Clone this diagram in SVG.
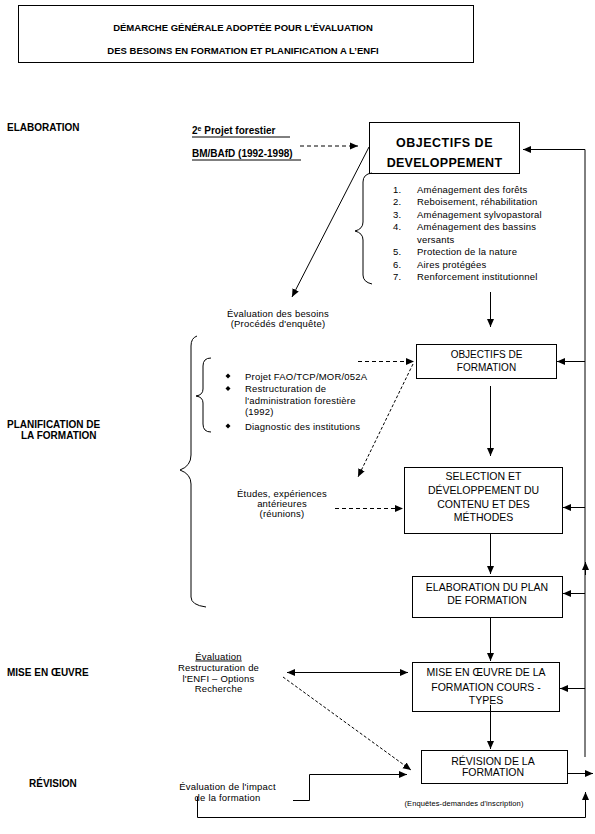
<svg xmlns="http://www.w3.org/2000/svg" width="595" height="834" viewBox="0 0 595 834">
<style>
text{font-family:"Liberation Sans",Arial,sans-serif;fill:#000}
.t{font-size:9.5px;font-weight:bold}
.lab{font-size:10px;font-weight:bold}
.b{font-size:10px}
.s{font-size:9.5px;letter-spacing:0.2px}
.m{text-anchor:middle}
.box{fill:#fff;stroke:#000;stroke-width:1}
.c{fill:none;stroke:#000;stroke-width:1}
.d{stroke-dasharray:4,3}
.f{stroke-dasharray:3,2}
</style>
<defs>
<marker id="a" markerUnits="userSpaceOnUse" markerWidth="8" markerHeight="8" refX="8" refY="4" orient="auto-start-reverse">
<path d="M0,0.5 L8,4 L0,7.5 z" fill="#000"/>
</marker>
</defs>
<rect width="595" height="834" fill="#fff"/>

<g id="title">
<rect class="box" x="18.5" y="5.5" width="455" height="57"/>
<text class="t m" x="243" y="31">DÉMARCHE GÉNÉRALE ADOPTÉE POUR L'ÉVALUATION</text>
<text class="t m" x="243" y="54">DES BESOINS EN FORMATION ET PLANIFICATION A L’ENFI</text>
</g>

<g id="labels">
<text class="lab" x="7" y="130.5">ELABORATION</text>
<text class="lab" x="7" y="427.5">PLANIFICATION DE</text>
<text class="lab" x="21" y="439">LA FORMATION</text>
<text class="lab" x="7" y="675.5">MISE EN ŒUVRE</text>
<text class="lab" x="29" y="786.5">RÉVISION</text>
</g>

<g id="projet">
<text class="lab" x="192" y="134">2<tspan font-size="7" dy="-3">e</tspan><tspan dy="3"> Projet forestier</tspan></text>
<line class="c" x1="192" y1="137" x2="290" y2="137"/>
<text class="lab" x="192" y="157">BM/BAfD (1992-1998)</text>
<line class="c" x1="192" y1="160" x2="301" y2="160"/>
</g>

<g id="obj-dev">
<rect class="box" x="369.5" y="122.5" width="150" height="51"/>
<text class="m" x="444.5" y="146.5" font-size="12.5" font-weight="bold" letter-spacing="0.5">OBJECTIFS DE</text>
<text class="m" x="444.5" y="167" font-size="12.5" font-weight="bold" letter-spacing="0.3">DEVELOPPEMENT</text>
</g>

<g id="obj-dev-list">
<path class="c" d="M372,173 Q363,174 363,182 V222 Q363,229 355,231 Q363,233 363,240 V275 Q363,282 372,284"/>
<g class="s">
<text x="393" y="192.5">1.</text><text x="417" y="192.5">Aménagement des forêts</text>
<text x="393" y="205">2.</text><text x="417" y="205">Reboisement,  réhabilitation</text>
<text x="393" y="217.5">3.</text><text x="417" y="217.5">Aménagement sylvopastoral</text>
<text x="393" y="230">4.</text><text x="417" y="230">Aménagement des bassins</text>
<text x="417" y="242.5">versants</text>
<text x="393" y="255">5.</text><text x="417" y="255">Protection de la nature</text>
<text x="393" y="267.5">6.</text><text x="417" y="267.5">Aires protégées</text>
<text x="393" y="280">7.</text><text x="417" y="280">Renforcement institutionnel</text>
</g>
</g>

<g id="eval-besoins">
<text class="s m" x="278" y="316.5">Évaluation des besoins</text>
<text class="s m" x="278" y="327">(Procédés d'enquête)</text>
</g>

<g id="brackets-planif">
<path class="c" d="M197,336 Q191,338 191,346 V455 Q191,466 180,470 Q191,474 191,484 V597 Q191,605 206,607"/>
<path class="c" d="M211,358 Q203,358 203,366 V389 Q203,395 196,396 Q203,397 203,403 V424 Q203,432 211,432"/>
</g>

<g id="sources">
<g fill="#000">
<path d="M228,373.5 l2.5,2.5 l-2.5,2.5 l-2.5,-2.5 z"/>
<path d="M228,386 l2.5,2.5 l-2.5,2.5 l-2.5,-2.5 z"/>
<path d="M228,423.5 l2.5,2.5 l-2.5,2.5 l-2.5,-2.5 z"/>
</g>
<g class="s">
<text x="245" y="379.5">Projet FAO/TCP/MOR/052A</text>
<text x="245" y="392">Restructuration de</text>
<text x="245" y="403.5">l'administration forestière</text>
<text x="245" y="415">(1992)</text>
<text x="245" y="429.5">Diagnostic des institutions</text>
</g>
</g>

<g id="obj-formation">
<rect class="box" x="416.5" y="344.5" width="140" height="34"/>
<text class="b m" x="486.5" y="357.5">OBJECTIFS DE</text>
<text class="b m" x="486.5" y="370.5">FORMATION</text>
</g>

<g id="etudes">
<text class="s m" x="282" y="496.5">Études, expériences</text>
<text class="s m" x="282" y="506.5">antérieures</text>
<text class="s m" x="282" y="517">(réunions)</text>
</g>

<g id="selection">
<rect class="box" x="404.5" y="467.5" width="158" height="66"/>
<text class="m" font-size="10.5" x="483.5" y="480">SELECTION ET</text>
<text class="m" font-size="10.5" x="483.5" y="494">DÉVELOPPEMENT DU</text>
<text class="m" font-size="10.5" x="483.5" y="507.5">CONTENU ET DES</text>
<text class="m" font-size="10.5" x="483.5" y="521">MÉTHODES</text>
</g>

<g id="plan">
<rect class="box" x="412.5" y="576.5" width="150" height="41"/>
<text class="m" font-size="10.5" x="487" y="591">ELABORATION DU PLAN</text>
<text class="m" font-size="10.5" x="487" y="604">DE FORMATION</text>
</g>

<g id="eval-enfi">
<text class="s m" x="218.5" y="659.5" text-decoration="underline">Évaluation</text>
<text class="s m" x="218.5" y="670.5">Restructuration de</text>
<text class="s m" x="218.5" y="681.5">l'ENFI – Options</text>
<text class="s m" x="218.5" y="691.5">Recherche</text>
</g>

<g id="mise">
<rect class="box" x="412.5" y="662.5" width="147" height="49"/>
<text class="m" font-size="10.5" x="486" y="676">MISE EN ŒUVRE DE LA</text>
<text class="m" font-size="10.5" x="486" y="690.5">FORMATION COURS -</text>
<text class="m" font-size="10.5" x="486" y="704">TYPES</text>
</g>

<g id="revision">
<rect class="box" x="421.5" y="750.5" width="146" height="33"/>
<text class="m" font-size="10.5" x="493" y="765">RÉVISION DE LA</text>
<text class="m" font-size="10.5" x="493" y="776">FORMATION</text>
<text class="m" font-size="7.5" x="464" y="806" letter-spacing="0.1">(Enquêtes-demandes d'inscription)</text>
</g>

<g id="eval-impact">
<text class="s m" x="227.5" y="789.5">Évaluation de l'impact</text>
<text class="s m" x="227.5" y="800.5">de la formation</text>
</g>

<g id="connectors">
<path class="c d" d="M300,146 H358" marker-end="url(#a)"/>
<path class="c" d="M585,757 V149.5 H523" marker-end="url(#a)"/>
<path class="c" d="M585,361.5 H557" marker-end="url(#a)"/>
<path class="c" d="M585,507.5 H563" marker-end="url(#a)"/>
<path class="c" d="M585,593.5 H563" marker-end="url(#a)"/>
<path class="c" d="M585,688.5 H560" marker-end="url(#a)"/>
<path class="c" d="M585.5,575 V562" marker-end="url(#a)"/>
<path class="c" d="M369,147 L292,297" marker-end="url(#a)"/>
<path class="c" d="M490.5,292 V327" marker-end="url(#a)"/>
<path class="c d" d="M358,361.5 H414" marker-end="url(#a)"/>
<path class="c" d="M490.5,386 V456" marker-end="url(#a)"/>
<path class="c f" d="M413,364 L358,477" marker-end="url(#a)"/>
<path class="c d" d="M335,508.5 H403" marker-end="url(#a)"/>
<path class="c" d="M490.5,533 V574" marker-end="url(#a)"/>
<path class="c" d="M490.5,617 V661" marker-end="url(#a)"/>
<path class="c" d="M287,672.5 H408" marker-start="url(#a)" marker-end="url(#a)"/>
<path class="c f" d="M283,677 L411,770" marker-end="url(#a)"/>
<path class="c" d="M490.5,705 V749" marker-end="url(#a)"/>
<path class="c" d="M293,800.5 H309.5 V774.5 H407" marker-end="url(#a)"/>
<path class="c" d="M567,773.5 H593" marker-end="url(#a)"/>
<path class="c" d="M197.5,797 V817.5 H585.5 V792" marker-end="url(#a)"/>
</g>
</svg>
